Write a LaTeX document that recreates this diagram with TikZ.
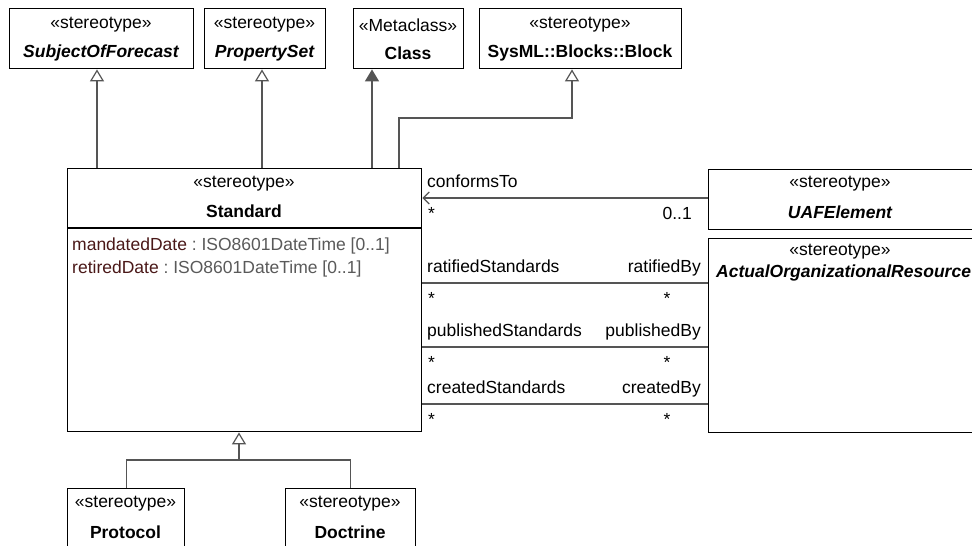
\documentclass[tikz,border=0pt]{standalone}
\usepackage{fontspec}
\setmainfont{Liberation Sans}
\usetikzlibrary{arrows.meta,calc}
\definecolor{conncol}{HTML}{555555}
\definecolor{attrname}{HTML}{4A1818}
\definecolor{attrtype}{HTML}{5A5A5A}
\begin{document}
\begin{tikzpicture}[x=1pt,y=-1pt,
  font=\fontsize{17.5}{21}\selectfont,
  box/.style={draw=black, line width=1.4pt, fill=white, rectangle, inner sep=0pt, anchor=north west},
  lbl/.style={inner sep=0pt, text=black},
  conn/.style={draw=conncol, line width=1.2pt},
  gen/.style={conn, -{Triangle[width=14pt,length=12pt,fill=white]}},
  genf/.style={conn, -{Triangle[width=14pt,length=12pt]}},
  nav/.style={conn, -{Straight Barb[length=6pt,width=12pt]}}]

\useasboundingbox[fill=white] (0,0) rectangle (972,546);

% boxes
\node[box, minimum width=184pt, minimum height=60pt] (sof) at (9,8) {};
\node[box, minimum width=121pt, minimum height=60pt] (pset) at (204,8) {};
\node[box, minimum width=110pt, minimum height=60pt] (cls) at (353,8) {};
\node[box, minimum width=202pt, minimum height=60pt] (sysml) at (479,8) {};
\node[box, minimum width=354pt, minimum height=263pt] (std) at (67,168) {};
\node[box, minimum width=267pt, minimum height=60pt] (uaf) at (708,169) {};
\node[box, minimum width=267pt, minimum height=194pt] (aor) at (708,238) {};
\node[box, minimum width=117pt, minimum height=80pt] (protocol) at (67,488) {};
\node[box, minimum width=130pt, minimum height=80pt] (doctrine) at (285,488) {};

% box texts
\node[lbl] (sofst) at (101,25) {«stereotype»};
\node[lbl] (sofnm) at (101,53) {\bfseries\itshape SubjectOfForecast};
\node[lbl] (psetst) at (264.5,25) {«stereotype»};
\node[lbl] (psetnm) at (264.5,53) {\bfseries\itshape PropertySet};
\node[lbl] (clsst) at (408,25) {«Metaclass»};
\node[lbl] (clsnm) at (408,53) {\bfseries Class};
\node[lbl] (sysmlst) at (580,25) {«stereotype»};
\node[lbl] (sysmlnm) at (580,53) {\bfseries SysML::Blocks::Block};
\node[lbl] (stdst) at (244,184) {«stereotype»};
\node[lbl] (stdnm) at (244,211) {\bfseries Standard};
\node[lbl, anchor=base west] (attr1) at (72,250) {\textcolor{attrname}{mandatedDate}\ \textcolor{attrtype}{:\ ISO8601DateTime [0..1]}};
\node[lbl, anchor=base west] (attr2) at (72,273) {\textcolor{attrname}{retiredDate}\ \textcolor{attrtype}{:\ ISO8601DateTime [0..1]}};
\node[lbl] (uafst) at (840,184) {«stereotype»};
\node[lbl] (uafnm) at (840,212) {\bfseries\itshape UAFElement};
\node[lbl] (aorst) at (840,252) {«stereotype»};
\node[lbl, anchor=west] (aornm) at (716,273) {\bfseries\itshape ActualOrganizationalResource};
\node[lbl] (protst) at (125.5,504) {«stereotype»};
\node[lbl] (protnm) at (125.5,532) {\bfseries Protocol};
\node[lbl] (docst) at (350,504) {«stereotype»};
\node[lbl] (docnm) at (350,532) {\bfseries Doctrine};

% compartment separator
\coordinate (sep) at (0,228);
\draw[line width=1.4pt] (std.west |- sep) -- (std.east |- sep);

% generalizations upward
\coordinate (xsof) at (97,0);
\coordinate (xpset) at (262,0);
\coordinate (xcls) at (372,0);
\coordinate (bendA) at (399,118);
\coordinate (bendB) at (572,118);
\draw[gen] (std.north -| xsof) -- (sof.south -| xsof);
\draw[gen] (std.north -| xpset) -- (pset.south -| xpset);
\draw[genf] (std.north -| xcls) -- (cls.south -| xcls);
\draw[gen] (std.north -| bendA) -- (bendA) -- (bendB) -- (sysml.south -| bendB);

% generalization downward
\coordinate (gj) at (239,460);
\draw[conn] (protocol.north) |- (gj) -| (doctrine.north);
\draw[gen] (gj) -- (std.south -| gj);

% associations
\coordinate (ya) at (0,198);
\coordinate (yb) at (0,283);
\coordinate (yc) at (0,347);
\coordinate (yd) at (0,404);
\draw[nav] (uaf.west |- ya) -- (std.east |- ya);
\draw[conn] (std.east |- yb) -- (aor.west |- yb);
\draw[conn] (std.east |- yc) -- (aor.west |- yc);
\draw[conn] (std.east |- yd) -- (aor.west |- yd);

% association labels
\node[lbl, anchor=base west] (l1) at (427,187) {conformsTo};
\node[lbl, anchor=base west] (m1a) at (428,219) {*};
\node[lbl, anchor=base east] (m1b) at (692,219) {0..1};

\node[lbl, anchor=base west] (l2a) at (427,272) {ratifiedStandards};
\node[lbl, anchor=base east] (l2b) at (701,272) {ratifiedBy};
\node[lbl, anchor=base west] (m2a) at (428,304) {*};
\node[lbl, anchor=base] (m2b) at (667,304) {*};

\node[lbl, anchor=base west] (l3a) at (427,336) {publishedStandards};
\node[lbl, anchor=base east] (l3b) at (701,336) {publishedBy};
\node[lbl, anchor=base west] (m3a) at (428,368) {*};
\node[lbl, anchor=base] (m3b) at (667,368) {*};

\node[lbl, anchor=base west] (l4a) at (427,393) {createdStandards};
\node[lbl, anchor=base east] (l4b) at (701,393) {createdBy};
\node[lbl, anchor=base west] (m4a) at (428,425) {*};
\node[lbl, anchor=base] (m4b) at (667,425) {*};
\end{tikzpicture}
\end{document}
